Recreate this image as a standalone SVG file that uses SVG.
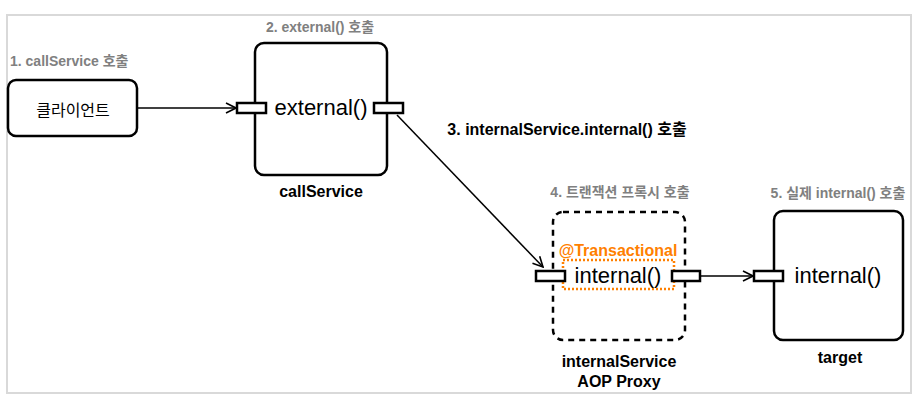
<svg xmlns="http://www.w3.org/2000/svg" width="922" height="401" viewBox="0 0 922 401">
<defs>
<style>
.box{fill:#fff;stroke:#000;stroke-width:2.5}
.port{fill:#fff;stroke:#000;stroke-width:2.5}
.step{font-family:"Liberation Sans","Noto Sans CJK KR",sans-serif;font-weight:bold;font-size:14px;fill:#808080;text-anchor:middle}
.name{font-family:"Liberation Sans","Noto Sans CJK KR",sans-serif;font-weight:bold;font-size:16px;fill:#000;text-anchor:middle}
.method{font-family:"Liberation Sans",sans-serif;font-size:22px;fill:#000;text-anchor:middle}
.conn{fill:none;stroke:#000;stroke-width:1.5}
</style>
<marker id="open" viewBox="0 0 12 12" refX="11" refY="6" markerWidth="12" markerHeight="12" markerUnits="userSpaceOnUse" orient="auto">
<path d="M1,1 L11,6 L1,11" fill="none" stroke="#000" stroke-width="1.6"/>
</marker>
</defs>
<rect x="0" y="0" width="922" height="401" fill="#fff"/>
<rect x="7" y="15" width="904" height="378" fill="none" stroke="#d9d9d9" stroke-width="2"/>

<g id="connectors">
<line class="conn" x1="138" y1="108" x2="236" y2="108" marker-end="url(#open)"/>
<line class="conn" x1="397" y1="115" x2="543" y2="267" marker-end="url(#open)"/>
<line class="conn" x1="700" y1="276" x2="753" y2="276" marker-end="url(#open)"/>
<text x="567" y="135" class="name">3. internalService.internal() 호출</text>
</g>

<g id="client">
<text x="10" y="66" class="step" style="text-anchor:start">1. callService 호출</text>
<rect class="box" x="8" y="80" width="129" height="56" rx="8"/>
<text x="73" y="116" font-family="'Noto Sans CJK KR',sans-serif" font-size="16" text-anchor="middle">클라이언트</text>
</g>

<g id="callService">
<text x="320" y="32" class="step">2. external() 호출</text>
<rect class="box" x="255" y="43" width="132" height="132" rx="9"/>
<text x="321" y="115" class="method">external()</text>
<rect class="port" x="237" y="103" width="29" height="10"/>
<rect class="port" x="374" y="103" width="29" height="10"/>
<text x="321" y="197" class="name">callService</text>
</g>

<g id="proxy">
<text x="620" y="197" class="step">4. 트랜잭션 프록시 호출</text>
<rect x="553" y="212" width="132" height="128" rx="10" fill="none" stroke="#000" stroke-width="2.5" stroke-dasharray="6 5"/>
<text x="618" y="256" font-family="'Liberation Sans',sans-serif" font-weight="bold" font-size="16" fill="#ff8000" text-anchor="middle">@Transactional</text>
<rect x="563" y="260" width="111" height="29" fill="none" stroke="#ff8000" stroke-width="2.5" stroke-dasharray="2 2"/>
<text x="618" y="283" class="method">internal()</text>
<rect class="port" x="536" y="271" width="29" height="10"/>
<rect class="port" x="672" y="271" width="28" height="10"/>
<text x="619" y="367" class="name">internalService</text>
<text x="619" y="387" class="name">AOP Proxy</text>
</g>

<g id="target">
<text x="838" y="198" class="step">5. 실제 internal() 호출</text>
<rect class="box" x="774" y="211" width="129" height="129" rx="9"/>
<text x="838" y="283" class="method">internal()</text>
<rect class="port" x="754" y="271" width="29" height="10"/>
<text x="840" y="363" class="name">target</text>
</g>
</svg>
